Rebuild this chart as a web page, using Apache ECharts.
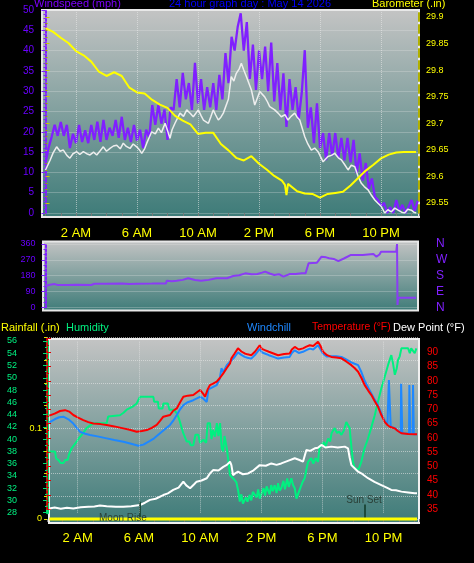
<!DOCTYPE html>
<html><head><meta charset="utf-8">
<script src="https://cdn.jsdelivr.net/npm/echarts@6/dist/echarts.min.js"></script>
<style>html,body{margin:0;padding:0;background:#000;}#c{width:474px;height:563px;}</style>
</head><body><div id="c"></div>
<script>
// ---------------- DATA ----------------
const hourLabels = {2:'2 AM',6:'6 AM',10:'10 AM',14:'2 PM',18:'6 PM',22:'10 PM'};
const gridHours = [2,6,10,14,18,22];
const moonRiseHour = 6.08;
const sunSetHour = 20.76;

// wind gust (mph), sampled every 0.2 h
const gustStep = 0.2;
const gustValues = [12.3,16,18.7,21.7,19,22.4,19,21.7,16,19.5,17.2,21.7,17.5,20.4,17.2,21.7,18,22.5,17.5,22.9,
 18,21,19,22.9,18.5,23.7,18,21,17.5,21.7,17.8,20.5,16,20.5,18.5,26.6,21.7,26.6,22,25.5,
 18,26,25.4,33,26,34.5,28,32,25.4,37,27,33,25.4,31,26,32,25.4,34,28,39.4,
 32,43.4,40,45.8,49.2,40,47,33,41.5,30.3,40,33,41,30,42,27.5,36.9,25.4,34.4,21.2,
 33,25.4,31,23,29.5,40.1,21,26,17.2,27,16,19.7,13,19.7,14,19.7,13.5,18.5,13,18.5,
 12.5,18,9.8,14.7,8,12.3,6,8.5,4,3.2,1.6,2.5,0,1.5,0,3.2,0.5,2,0,1.5,3.2,0.5,3];

// wind average (mph)
const windTimes = [0,0.3,0.5,0.73,0.95,1.17,1.4,1.6,1.8,2.05,2.25,2.48,2.7,2.92,3.15,3.36,3.6,3.79,4.0,4.23,4.45,4.67,4.9,5.1,5.3,5.54,5.75,5.98,6.15,6.31,6.5,6.64,6.96,7.2,7.4,7.6,7.84,8.0,8.16,8.3,8.49,8.82,9.05,9.26,9.5,9.69,10.02,10.2,10.35,10.68,10.85,11.0,11.15,11.33,11.5,11.66,11.99,12.18,12.35,12.51,12.7,12.84,13.0,13.17,13.5,13.72,13.9,14.05,14.37,14.55,14.7,15.03,15.25,15.46,15.7,15.9,16.1,16.34,16.5,16.67,17.0,17.2,17.43,17.65,17.87,18.2,18.52,18.75,18.96,19.2,19.4,19.6,19.84,20.05,20.28,20.5,20.71,20.9,21.15,21.38,21.59,21.8,22.02,22.24,22.45,22.68,22.9,23.12,23.35,23.55,23.75,23.99,24.15,24.31];
const windValues = [10.6,13,14.8,16.3,15.2,15.5,14.2,13.5,14.6,15.1,14.4,15.1,14.6,14.3,15,14.3,15.4,16.3,15.2,15.9,16.5,16.7,15.8,17.2,16.4,15.9,17,16.3,15.6,14.7,15.8,17.2,20,19.5,20.9,19.8,22.1,20.3,18.4,20.5,22.1,24.6,23.8,25.4,24.5,23.7,25.4,24,22.9,22.1,23.8,25.4,24.2,22.9,23.6,24.6,28,33.6,32.5,34.4,35.5,36.9,35.2,33.6,30.3,26.6,28.4,29.9,28.6,27.4,26.2,25.4,24.6,23.7,24.2,22.9,23.8,24.6,23.6,22.9,18.8,17,15.5,16,15.1,12.6,13.9,14.2,14.7,13.6,13.1,12,10.6,11.8,11.4,9,7.3,6.5,5.7,4.3,3.2,2.4,1.6,0,0.8,0.3,1.2,0.7,0.2,0,0.9,0.7,0.2,0];

// barometer (in)
const baroTimes = [0,0.5,1,1.5,2,2.5,3,3.5,4,4.5,5,5.5,6,6.5,7,7.5,8,8.5,9,9.5,10,10.5,11,11.5,12,12.5,13,13.5,14,14.5,15,15.5,15.7,15.8,15.9,16,16.5,17,17.5,18,18.5,19,19.5,20,20.5,21,21.5,22,22.5,23,23.5,24,24.3];
const baroValues = [29.879,29.872,29.861,29.851,29.836,29.828,29.816,29.797,29.789,29.796,29.789,29.767,29.758,29.756,29.744,29.735,29.729,29.714,29.705,29.698,29.68,29.682,29.682,29.661,29.649,29.635,29.63,29.638,29.624,29.613,29.601,29.592,29.584,29.565,29.586,29.584,29.572,29.568,29.567,29.56,29.567,29.569,29.571,29.583,29.597,29.611,29.622,29.634,29.641,29.645,29.646,29.646,29.646];

// wind direction (degrees)
const dirTimes = [0,0.3,0.6,0.8,1.5,2,3,3.2,4,5,5.5,6,7,7.9,7.95,8.3,8.6,9.0,9.35,9.8,10.2,10.7,11.2,11.9,12.3,12.7,13.1,13.5,13.9,14.2,14.4,14.7,15.0,15.3,15.6,16.0,16.4,16.8,17.05,17.25,17.8,18.1,18.4,18.6,18.9,19.2,19.6,20.0,20.8,21.5,21.7,21.9,22.0,23.0,23.05,23.08,23.12,24.3];
const dirValues = [121,128,132,127,127,128,127,134,134,135,133,134,135,136,151,148,151,156,165,155,151,156,165,165,178,182,193,188,189,197,203,192,184,188,174,189,190,193,193,250,254,288,284,279,275,263,279,297,297,303,288,300,316,316,360,13,55,55];

// rainfall (in)
const rainTimes = [0.15,24.18];
const rainValues = [0,0];

// humidity (%)
const humTimes = [0.15,0.52,0.6,0.74,0.9,1.07,1.2,1.35,1.45,1.61,1.94,2.1,2.27,2.59,2.8,3.03,3.5,3.9,4.0,4.77,5.0,5.21,5.6,5.86,6.08,6.95,7.0,7.25,7.3,7.55,7.6,7.9,8.0,8.3,8.48,8.6,8.69,8.9,9.13,9.3,9.4,9.56,9.7,9.89,10.0,10.22,10.4,10.5,10.65,10.75,10.85,10.98,11.1,11.2,11.31,11.42,11.52,11.6,11.75,11.85,11.96,12.05,12.2,12.37,12.5,12.6,12.7,12.8,12.92,13.0,13.1,13.25,13.35,13.45,13.58,13.7,13.8,13.9,14.01,14.15,14.25,14.35,14.44,14.55,14.65,14.75,14.88,15.0,15.1,15.2,15.31,15.45,15.55,15.7,15.8,15.97,16.08,16.19,16.3,16.41,16.55,16.7,16.84,16.95,17.06,17.27,17.4,17.55,17.71,17.8,17.93,18.1,18.2,18.37,18.5,18.6,18.8,18.95,19.1,19.24,19.4,19.56,19.68,19.78,19.9,20.0,20.1,20.22,20.35,20.54,20.75,20.98,21.2,21.42,21.6,21.85,22.05,22.29,22.5,22.6,22.73,22.85,22.94,23.05,23.16,23.6,23.71,23.8,23.92,24.03,24.14];
const humValues = [38,38,36.8,36.6,36.1,36.1,36.6,36.6,37.6,38.5,39.6,40.2,40.7,41.8,42.2,42.6,42.6,42.6,43.7,43.9,44.3,44.8,45.3,45.8,46.9,46.9,46.1,46.1,45,45,45.8,45.8,44.8,44.8,44.2,43.5,42.8,41,39.6,39.6,39,39,40.7,40.7,39.4,39.9,39.4,42.6,42.6,40,41.5,40.4,42.6,40.5,42.6,38.5,38,40.5,38.5,36.5,34.1,34.1,33.5,33,31.5,29.8,31,29.5,29.3,30.5,29.8,30.9,30,31.4,31.4,30.5,31.8,30.3,30.3,32,30.8,32.3,32,31,32.5,31.5,32.5,31.2,32.8,31.6,32,33.2,31.8,33.6,32.2,33.6,32.5,32,30.3,30.3,32,33,33.6,35,36.3,36.9,36,36.9,36.3,38.5,39,39.5,38.8,40.1,39.6,41,41.8,41,41.2,40.7,41.4,42.8,42.8,41.8,38.5,36.3,35.3,35,35,36.3,38.5,40.1,42,43.9,45.8,48.3,50,52.1,53.7,52.5,50.5,51.5,52.9,53.5,54.8,54.8,54,54.8,54.8,54,54.8];

// temperature (F)
const tempTimes = [0.15,0.5,0.85,1.18,1.45,1.72,2.0,2.37,2.7,3.03,3.5,3.9,4.4,4.99,5.4,5.86,6.2,6.52,6.85,7.17,7.4,7.6,8.04,8.25,8.48,8.7,8.91,9.2,9.56,9.8,10.0,10.2,10.33,10.5,10.65,10.85,11.09,11.3,11.52,11.75,11.96,12.05,12.25,12.48,12.7,12.92,13.1,13.35,13.6,13.9,14.05,14.23,14.5,14.8,15.1,15.5,15.86,16.0,16.19,16.45,16.73,16.95,17.17,17.4,17.71,17.85,18.04,18.3,18.58,18.9,19.24,19.55,19.89,20.1,20.33,20.55,20.76,21.0,21.2,21.4,21.63,21.85,22.07,22.25,22.4,22.73,22.95,23.16,23.6,24.03,24.18];
const tempValues = [67.8,68.5,69.4,69.7,69.2,68,67.2,66.2,65.5,65,64.8,64.5,64,63.3,62.8,62.1,62.4,62.7,63.5,64.5,66,67.4,68,69.5,70.3,72.5,74.4,74.8,75,76,76.8,75.5,74.4,77,78.5,79,79.7,81,82.6,84.5,86.1,87.9,89.5,91.4,90.3,89.6,89.3,89,90.3,92.5,91.2,90.8,90.2,89.6,89,89.4,89.6,91,91.9,91,91.4,92,92.5,92.2,93.7,92.5,90.2,89,88.4,88.2,87.9,86.8,85.5,84.5,83.2,81,78.5,76.5,75,73,70.9,68,65.6,64.5,63.9,63.3,62.3,61.6,61.3,61.2,61.2];

// windchill (F)
const chillTimes = [0.15,0.5,0.8,1.07,1.4,1.72,1.95,2.16,2.5,2.81,3.3,3.9,4.4,4.99,5.5,5.97,6.3,6.73,7.0,7.39,7.7,8.04,8.25,8.48,8.7,8.91,9.2,9.56,10.0,10.2,10.44,10.55,10.65,11.09,11.3,11.4,11.52,11.75,11.96,12.05,12.25,12.48,12.7,12.92,13.1,13.35,13.6,13.9,14.05,14.23,14.5,14.8,15.1,15.5,15.86,16.0,16.19,16.45,16.73,16.95,17.17,17.4,17.71,17.85,18.04,18.3,18.58,18.9,19.24,19.55,19.89,20.1,20.33,20.55,20.76,21.0,21.2,21.4,21.63,21.85,22.07,22.25,22.32,22.34,22.44,22.46,22.73,22.95,23.12,23.14,23.2,23.22,23.66,23.68,23.72,23.74,23.9,23.92,23.95,23.97,24.18];
const chillValues = [65.4,66.5,67.2,67.4,66.5,65,63.5,62.1,61.4,61,60.5,59.8,59.2,58.6,57.9,57.2,57.6,58.9,59.8,61.6,63,64.5,66,68,70,71.5,72.5,73.2,74.4,73.8,72.6,77,77.4,78.5,81,84.4,83,85.5,86.7,86.7,88.3,90,89.1,88.4,88.1,87.8,89.1,91.2,90,89.6,89,88.4,87.8,88.2,88.4,89.8,90.7,89.8,90.2,90.8,91.3,91,92.5,91.3,89.5,88.5,88.6,88.6,88.4,87.5,86.5,86,85.5,83,80,77.5,75.5,73.5,71.5,68.5,66,64.6,64.3,80.3,80.3,64,63.4,62.4,61.7,79,79,61.6,61.4,78.5,78.5,61.3,61.3,78.5,78.5,61.2,61.2];

// dew point (F)
const dewTimes = [0.15,0.5,0.9,1.3,1.72,2.2,2.7,3.1,3.46,3.9,4.5,4.99,5.5,6.08,6.4,6.73,7.1,7.6,7.9,8.25,8.6,8.91,9.1,9.35,9.6,9.78,10.1,10.44,10.65,10.87,11.2,11.52,11.75,11.96,12.05,12.16,12.3,12.48,12.8,13.14,13.5,13.9,14.3,14.66,15.0,15.31,15.7,16.19,16.5,16.73,16.85,16.95,17.2,17.5,17.7,17.93,18.2,18.58,19.0,19.46,19.67,19.78,19.89,20.1,20.33,20.6,20.98,21.4,21.85,22.2,22.5,22.8,23.16,23.6,24.03,24.18];
const dewValues = [35.2,35.5,35.1,35.4,35.2,35.6,35.8,35.9,36.2,36,35.8,35.8,36,36.4,37.2,38.2,38.6,39.9,40.5,41.7,42.5,44.6,43.3,42.3,43.6,44.6,45,45.8,47.5,48.7,48.5,49.8,50.5,51.6,50.4,46.9,47.5,48.1,47.2,47.5,48.6,50.4,50.2,51,50.5,51,51.8,52.8,52.2,51.6,52,55.7,55.4,56.3,56.5,57.5,56.6,56.9,56.6,56.9,56.3,53,50.4,49.3,48.1,47.3,45.8,44.5,43.4,42.5,41.7,41.6,41.1,40.8,40.5,40.5];

// ---------------- CHART ----------------
const FONT = 'Liberation Sans, Arial, sans-serif';
const purple = '#8020ff';
const purpleTxt = '#6a00ff';
const pair = (t, v) => t.map((h, i) => [h, v[i]]);
const gustTimes = gustValues.map((_, i) => +(i * gustStep).toFixed(2));
const hourFmt = v => hourLabels[Math.round(v * 1000) / 1000] || '';
const bg = () => new echarts.graphic.LinearGradient(0, 0, 0, 1, [
  {offset: 0, color: '#c4c4c4'}, {offset: 1, color: '#3d7b78'}]);
const gridLineStyle = {color: 'rgba(235,235,235,0.55)', type: 'dotted', width: 1};
const vGrid = xs => ({silent: true, symbol: ['none', 'none'], label: {show: false},
  lineStyle: gridLineStyle, emphasis: {disabled: true}, data: xs.map(h => ({xAxis: h}))});

const chart = echarts.init(document.getElementById('c'), null, {renderer: 'canvas'});
const hidX = (gi, max) => ({gridIndex: gi, type: 'value', min: 0, max: max, show: false});

const option = {
  animation: false,
  backgroundColor: '#000',
  grid: [
    {left: 45.5, right: 55, top: 10, height: 203},     // wind
    {left: 45.5, right: 55, top: 17, height: 186},     // barometer
    {left: 45.5, right: 55, top: 244, height: 63.3},   // direction
    {left: 47, right: 55, top: 341, height: 171.7},    // humidity
    {left: 47, right: 55, top: 337.6, height: 181.4},  // rain
    {left: 47, right: 55, top: 338.1, height: 170.9}   // temperature
  ],
  xAxis: [
    {gridIndex: 0, type: 'value', min: 0, max: 24.49, interval: 1, offset: 4,
     axisLine: {show: false}, axisTick: {show: true, length: 3, lineStyle: {color: '#777'}},
     axisLabel: {formatter: hourFmt, color: '#ffff00', fontSize: 13, margin: 10, fontFamily: FONT},
     splitLine: {show: false}},
    hidX(1, 24.49), hidX(2, 24.49), hidX(3, 24.31),
    {gridIndex: 4, type: 'value', min: 0, max: 24.31, interval: 1, offset: 4,
     axisLine: {show: false}, axisTick: {show: true, length: 3, lineStyle: {color: '#777'}},
     axisLabel: {formatter: hourFmt, color: '#ffff00', fontSize: 13, margin: 9, fontFamily: FONT},
     splitLine: {show: false}},
    hidX(5, 24.31)
  ],
  yAxis: [
    {gridIndex: 0, type: 'value', min: 0, max: 50, interval: 5, position: 'left', offset: 5.5,
     axisLine: {show: true, lineStyle: {color: purple, type: 'dotted', width: 2}},
     axisTick: {show: true, length: 4, lineStyle: {color: purple}},
     minorTick: {show: true, splitNumber: 5, length: 2, lineStyle: {color: purple}},
     axisLabel: {color: purpleTxt, fontSize: 10, margin: 6, fontFamily: FONT},
     splitLine: {show: true, lineStyle: gridLineStyle}},
    {gridIndex: 0, type: 'value', min: 0, max: 50, position: 'right',
     axisLine: {show: true, lineStyle: {color: '#b0b000', type: 'dashed', width: 2}},
     axisTick: {show: false}, axisLabel: {show: false}, splitLine: {show: false}},
    {gridIndex: 1, type: 'value', min: 29.55, max: 29.9, interval: 0.05, position: 'right',
     axisLine: {show: false},
     axisTick: {show: true, length: 4, lineStyle: {color: '#c8c800'}},
     minorTick: {show: true, splitNumber: 4, length: 2, lineStyle: {color: '#a0a000'}},
     axisLabel: {color: '#ffff00', fontSize: 9, margin: 7, fontFamily: FONT,
                 formatter: v => String(+v.toFixed(2))},
     splitLine: {show: false}},
    {gridIndex: 2, type: 'value', min: 0, max: 360, interval: 90, position: 'left', offset: 4,
     axisLine: {show: true, lineStyle: {color: purple, type: 'dotted', width: 2}},
     axisTick: {show: true, length: 4, lineStyle: {color: purple}},
     minorTick: {show: true, splitNumber: 3, length: 2, lineStyle: {color: purple}},
     axisLabel: {color: purpleTxt, fontSize: 9, margin: 6, fontFamily: FONT},
     splitLine: {show: true, lineStyle: gridLineStyle}},
    {gridIndex: 2, type: 'value', min: 0, max: 360, interval: 90, position: 'right',
     axisLine: {show: false}, axisTick: {show: false}, splitLine: {show: false},
     axisLabel: {color: purple, fontSize: 12, margin: 17, fontFamily: FONT, align: 'left',
                 formatter: v => ({0: 'N', 90: 'E', 180: 'S', 270: 'W', 360: 'N'})[v] || ''}},
    {gridIndex: 3, type: 'value', min: 28, max: 56, interval: 2, position: 'left', offset: 21,
     axisLine: {show: true, lineStyle: {color: '#00e070', width: 3}},
     axisTick: {show: true, length: 4, lineStyle: {color: '#00e070'}},
     minorTick: {show: true, splitNumber: 2, length: 2, lineStyle: {color: '#00e070'}},
     axisLabel: {color: '#00f080', fontSize: 9, margin: 9, fontFamily: FONT},
     splitLine: {show: false}},
    {gridIndex: 4, type: 'value', min: 0, max: 0.2, interval: 0.025, position: 'left',
     axisLine: {show: false},
     axisTick: {show: true, length: 3, lineStyle: {color: '#e0e000'}},
     axisLabel: {color: '#ffff00', fontSize: 9, margin: 5, fontFamily: FONT,
                 formatter: v => Math.abs(v - 0.1) < 1e-9 ? '0.1' : (Math.abs(v) < 1e-9 ? '0' : '')},
     splitLine: {show: true, lineStyle: gridLineStyle}},
    {gridIndex: 5, type: 'value', min: 35, max: 95, interval: 5, position: 'right', offset: 1,
     axisLine: {show: true, lineStyle: {color: '#d00000', type: 'dotted', width: 2}},
     axisTick: {show: true, length: 4, lineStyle: {color: '#e00000'}},
     minorTick: {show: true, splitNumber: 2, length: 2, lineStyle: {color: '#c00000'}},
     axisLabel: {color: '#ff0000', fontSize: 10, margin: 7, fontFamily: FONT,
                 formatter: v => v >= 95 ? '' : String(v)},
     splitLine: {show: false}}
  ],
  series: [
    {type: 'line', name: 'gust', xAxisIndex: 0, yAxisIndex: 0, data: pair(gustTimes, gustValues),
     symbol: 'none', lineStyle: {color: purple, width: 2.3}, z: 2, markLine: vGrid(gridHours)},
    {type: 'line', name: 'wind', xAxisIndex: 0, yAxisIndex: 0, data: pair(windTimes, windValues),
     symbol: 'none', lineStyle: {color: '#eeeeee', width: 1.5}, z: 3},
    {type: 'line', name: 'baro', xAxisIndex: 1, yAxisIndex: 2, data: pair(baroTimes, baroValues),
     symbol: 'none', lineStyle: {color: '#ffff00', width: 2}, z: 4},
    {type: 'line', name: 'dir', xAxisIndex: 2, yAxisIndex: 3, data: pair(dirTimes, dirValues),
     symbol: 'none', lineStyle: {color: '#8a3cf5', width: 2}, z: 3},
    {type: 'line', name: 'rain', xAxisIndex: 4, yAxisIndex: 6, data: pair(rainTimes, rainValues),
     symbol: 'none', lineStyle: {color: '#ffff00', width: 3}, z: 5, clip: false,
     markLine: {silent: true, symbol: ['none', 'none'], label: {show: false},
       lineStyle: {color: '#1d4a3b', width: 2, type: 'solid'},
       data: [[{coord: [moonRiseHour, 0]}, {coord: [moonRiseHour, 0.019]}],
              [{coord: [sunSetHour, 0]}, {coord: [sunSetHour, 0.016]}]]}},
    {type: 'line', name: 'hum', xAxisIndex: 3, yAxisIndex: 5, data: pair(humTimes, humValues),
     symbol: 'none', lineStyle: {color: '#00f080', width: 2}, z: 2, markLine: vGrid(gridHours)},
    {type: 'line', name: 'chill', xAxisIndex: 5, yAxisIndex: 7, data: pair(chillTimes, chillValues),
     symbol: 'none', lineStyle: {color: '#1e88ff', width: 2}, z: 3},
    {type: 'line', name: 'temp', xAxisIndex: 5, yAxisIndex: 7, data: pair(tempTimes, tempValues),
     symbol: 'none', lineStyle: {color: '#ff0000', width: 2}, z: 4},
    {type: 'line', name: 'dew', xAxisIndex: 5, yAxisIndex: 7, data: pair(dewTimes, dewValues),
     symbol: 'none', lineStyle: {color: '#ffffff', width: 2}, z: 4}
  ],
  graphic: [
    {type: 'rect', z: -10, shape: {x: 42, y: 10, width: 377, height: 207},
     style: {fill: bg(), stroke: '#e8e8e8', lineWidth: 2}},
    {type: 'rect', z: -10, shape: {x: 43, y: 241.5, width: 375, height: 69},
     style: {fill: bg(), stroke: '#e8e8e8', lineWidth: 2}},
    {type: 'rect', z: -10, shape: {x: 49, y: 339, width: 370, height: 184},
     style: {fill: bg(), stroke: '#f0f0f0', lineWidth: 2}},
    {type: 'text', z: 100, x: 34, y: 4, style: {text: 'Windspeed (mph)', fill: '#7f00ff', font: '11px ' + FONT, verticalAlign: 'middle'}},
    {type: 'text', z: 100, x: 250, y: 4, style: {text: '24 hour graph day : May 14 2026', fill: '#0000ff', font: '11px ' + FONT, align: 'center', verticalAlign: 'middle'}},
    {type: 'text', z: 100, x: 372, y: 4, style: {text: 'Barometer (.in)', fill: '#ffff00', font: '11px ' + FONT, verticalAlign: 'middle'}},
    {type: 'text', z: 100, x: 1, y: 327.5, style: {text: 'Rainfall (.in)', fill: '#ffff00', font: '11px ' + FONT, verticalAlign: 'middle'}},
    {type: 'text', z: 100, x: 66, y: 327.5, style: {text: 'Humidity', fill: '#00f080', font: '11px ' + FONT, verticalAlign: 'middle'}},
    {type: 'text', z: 100, x: 247, y: 327.5, style: {text: 'Windchill', fill: '#1e88ff', font: '11px ' + FONT, verticalAlign: 'middle'}},
    {type: 'text', z: 100, x: 312, y: 327.5, style: {text: 'Temperature (°F)', fill: '#ff0000', font: '10.4px ' + FONT, verticalAlign: 'middle'}},
    {type: 'text', z: 100, x: 393, y: 327.5, style: {text: 'Dew Point (°F)', fill: '#ffffff', font: '11px ' + FONT, verticalAlign: 'middle'}},
    {type: 'text', z: 100, x: 99, y: 518, style: {text: 'Moon Rise', fill: '#2a4038', font: '10px ' + FONT, verticalAlign: 'middle'}},
    {type: 'text', z: 100, x: 364, y: 500.5, style: {text: 'Sun Set', fill: '#2a4038', font: '10px ' + FONT, align: 'center', verticalAlign: 'middle'}}
  ]
};
chart.setOption(option);
</script>
</body></html>
